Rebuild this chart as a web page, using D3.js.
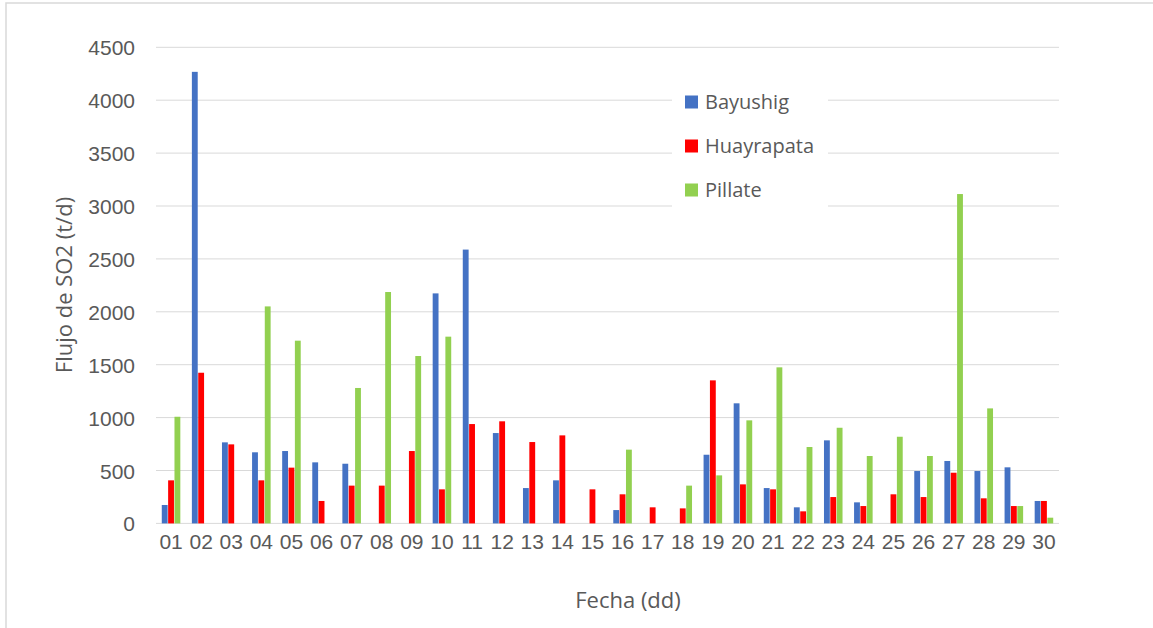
<!DOCTYPE html>
<head>
<meta charset="utf-8">
<title>Flujo de SO2</title>
<script src="https://d3js.org/d3.v7.min.js"></script>
<style>
  body { margin: 0; background: #fff; }
  svg { font-family: "Open Sans", sans-serif; }
  .tick text { fill: #595959; font-size: 21px; }
  .grid-line { stroke: #d9d9d9; stroke-width: 1px; }
  .axis-title { fill: #595959; font-size: 22px; }
  .leyenda text { fill: #595959; font-size: 20px; }
</style>
</head>
<body>
<script>
var dias = ["01","02","03","04","05","06","07","08","09","10",
            "11","12","13","14","15","16","17","18","19","20",
            "21","22","23","24","25","26","27","28","29","30"];

var bayushig = [174, 4268, 766, 672, 684, 577, 564, 0, 0, 2174,
                2588, 854, 334, 407, 0, 126, 0, 0, 649, 1135,
                334, 152, 785, 199, 0, 495, 590, 495, 530, 212];
var huayrapata = [407, 1424, 747, 407, 527, 212, 357, 357, 684, 322,
                  939, 965, 769, 832, 322, 275, 152, 142, 1352, 369,
                  322, 114, 249, 164, 275, 249, 479, 237, 164, 212];
var pillate = [1008, 0, 0, 2051, 1727, 0, 1280, 2187, 1582, 1765,
               0, 0, 0, 0, 0, 697, 0, 357, 454, 974,
               1475, 722, 904, 637, 819, 637, 3113, 1087, 164, 54];

var yTicks = [0, 500, 1000, 1500, 2000, 2500, 3000, 3500, 4000, 4500];

var series = [
  {name: "Bayushig", values: bayushig, color: "#4472C4"},
  {name: "Huayrapata", values: huayrapata, color: "#FF0000"},
  {name: "Pillate", values: pillate, color: "#92D050"}
];

var W = 1153, H = 628;
var plot = {left: 156, right: 1059, top: 47.3, bottom: 523.4};

var svg = d3.select("body").append("svg")
    .attr("width", W)
    .attr("height", H);

// chart border (only top and left visible)
svg.append("rect")
    .attr("x", 6).attr("y", 3)
    .attr("width", W + 20).attr("height", H + 20)
    .attr("fill", "none")
    .attr("stroke", "#d9d9d9")
    .attr("stroke-width", 1.5);

var x0 = d3.scaleBand()
    .domain(dias)
    .range([plot.left, plot.right])
    .paddingInner(0.35)
    .paddingOuter(0.175);

var x1 = d3.scaleBand()
    .domain(series.map(function(s) { return s.name; }))
    .range([0, x0.bandwidth()])
    .padding(0.08);

var y = d3.scaleLinear()
    .domain([0, 4500])
    .range([plot.bottom, plot.top]);

// grid lines
svg.append("g").selectAll("line")
    .data(yTicks)
  .enter().append("line")
    .attr("class", "grid-line")
    .attr("x1", plot.left).attr("x2", plot.right)
    .attr("y1", function(d) { return y(d); })
    .attr("y2", function(d) { return y(d); });

// y axis
var yAxis = d3.axisLeft(y).tickValues(yTicks).tickSize(0).tickPadding(21)
    .tickFormat(d3.format("d"));
svg.append("g")
    .attr("transform", "translate(" + plot.left + ",0)")
    .call(yAxis)
    .call(function(g) { g.select(".domain").remove(); })
    .selectAll("text").attr("dy", "0.36em");

// x axis
var xAxis = d3.axisBottom(x0).tickSize(0).tickPadding(0);
svg.append("g")
    .attr("transform", "translate(0," + plot.bottom + ")")
    .call(xAxis)
    .call(function(g) { g.select(".domain").remove(); })
    .selectAll("text").attr("dy", "1.22em");

// bars
var groups = svg.append("g").selectAll("g")
    .data(series)
  .enter().append("g")
    .attr("fill", function(s) { return s.color; });

groups.selectAll("rect")
    .data(function(s) {
      return s.values.map(function(v, i) { return {name: s.name, dia: dias[i], value: v}; });
    })
  .enter().append("rect")
    .attr("x", function(d) { return x0(d.dia) + x1(d.name); })
    .attr("width", x1.bandwidth())
    .attr("y", function(d) { return y(d.value); })
    .attr("height", function(d) { return y(0) - y(d.value); });

// axis titles
svg.append("text")
    .attr("class", "axis-title")
    .attr("text-anchor", "middle")
    .attr("x", 628).attr("y", 608)
    .text("Fecha (dd)");

svg.append("text")
    .attr("class", "axis-title")
    .attr("transform", "translate(72,285) rotate(-90)")
    .attr("text-anchor", "middle")
    .text("Flujo de SO2 (t/d)");

// legend
var legend = svg.append("g").attr("class", "leyenda");
legend.append("rect")
    .attr("x", 672).attr("y", 72)
    .attr("width", 156).attr("height", 138)
    .attr("fill", "#fff");

var item = legend.selectAll("g")
    .data(series)
  .enter().append("g")
    .attr("transform", function(d, i) { return "translate(685," + (102 + i * 44) + ")"; });

item.append("rect")
    .attr("x", 0).attr("y", -6.5)
    .attr("width", 13).attr("height", 13)
    .attr("fill", function(d) { return d.color; });

item.append("text")
    .attr("x", 20).attr("dy", "0.36em")
    .text(function(d) { return d.name; });
</script>
</body>
